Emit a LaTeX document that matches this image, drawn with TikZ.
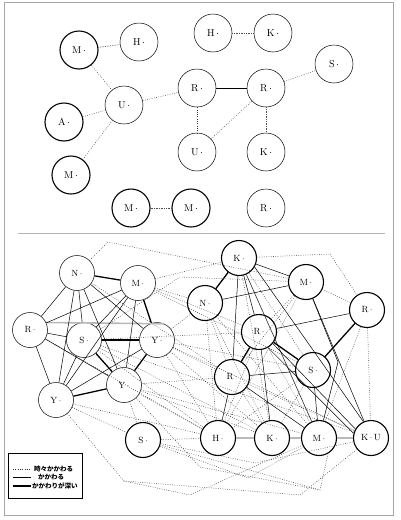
\documentclass[tikz,border=0pt]{standalone}
\usepackage{fontspec}
\newfontfamily\jpfont{Noto Sans CJK JP}
\newcommand{\ndot}{\,$\cdot$}
\begin{document}
\begin{tikzpicture}[x=1pt,y=-1pt,
  pers/.style={circle,draw,line width=0.5pt,minimum size=38pt,inner sep=0pt},
  persb/.style={pers,line width=1.1pt},
  low/.style={minimum size=35pt,font=\small},
  toki/.style={line width=0.5pt,black!80,dash pattern=on 0.7pt off 1.6pt},
  tokid/.style={line width=0.6pt,black!70,dash pattern=on 0.8pt off 0.9pt},
  kaka/.style={line width=0.5pt},
  fuka/.style={line width=1.3pt},
  gfuka/.style={line width=1.6pt,gray!55},
  legtxt/.style={anchor=west,inner sep=1pt,font=\jpfont\bfseries\fontsize{6.5}{7}\selectfont}]
\useasboundingbox (0,0) rectangle (400,520);
\draw[gray!70,line width=0.9pt] (4,2) rectangle (393,515);
% upper part
\node[persb] (m1) at (79,50) {M\ndot};
\node[pers] (h1) at (139,42) {H\ndot};
\node[pers] (h2) at (213,33) {H\ndot};
\node[pers] (k1) at (273,33) {K\ndot};
\node[pers] (s1) at (334,64) {S\ndot};
\node[pers] (r1) at (197,88) {R\ndot};
\node[pers] (r2) at (266,88) {R\ndot};
\node[pers] (u1) at (124,105) {U\ndot};
\node[persb] (a1) at (64,122) {A\ndot};
\node[pers] (u2) at (197,152) {U\ndot};
\node[pers] (k2) at (266,152) {K\ndot};
\node[persb] (m2) at (71,175) {M\ndot};
\node[persb] (m3) at (131,208) {M\ndot};
\node[persb] (m4) at (191,208) {M\ndot};
\node[pers] (r3) at (266,208) {R\ndot};
\draw[tokid] (m1)--(h1);
\draw[tokid] (h2)--(k1);
\draw[toki] (m1)--(u1);
\draw[toki] (a1)--(u1);
\draw[toki] (m2)--(u1);
\draw[toki] (u1)--(r1);
\draw[kaka] (r1)--(r2);
\draw[toki] (r2)--(s1);
\draw[toki] (r1)--(u2);
\draw[toki] (r2)--(u2);
\draw[tokid] (r2)--(k2);
\draw[tokid] (m3)--(m4);
\draw[gray!60,line width=0.6pt] (18,233)--(385,233);
% lower part
\node[pers,low] (n) at (77,273) {N\ndot};
\node[pers,low] (m) at (138,283) {M\ndot};
\node[pers,low] (r) at (30,330) {R\ndot};
\node[pers,low] (s) at (84,340) {S\ndot};
\node[pers,low] (y1) at (157,340) {Y\ndot};
\node[pers,low] (y2) at (124,385) {Y\ndot};
\node[pers,low] (y3) at (56,400) {Y\ndot};
\node[persb,low] (k) at (239,258) {K\ndot};
\node[persb,low] (mr) at (306,282) {M\ndot};
\node[persb,low] (rr) at (367,310) {R\ndot};
\node[persb,low] (nr) at (205,303) {N\ndot};
\node[persb,low] (rm) at (259,332) {R\ndot};
\node[persb,low] (rd) at (232,377) {R\ndot};
\node[persb,low] (sr) at (313,370) {S\ndot};
\node[persb,low] (sb) at (143,440) {S\ndot};
\node[persb,low] (hb) at (218,438) {H\ndot};
\node[persb,low] (kb) at (272,438) {K\ndot};
\node[persb,low] (mb) at (319,438) {M\ndot};
\node[persb,low] (ku) at (371,438) {K\,$\cdot$\,U};
\coordinate (c1) at (108,242);
\coordinate (c2) at (330,254);
\coordinate (c3) at (180,277);
\coordinate (c4) at (124,481);
\coordinate (c5) at (190,495);
\coordinate (c6) at (300,495);
\coordinate (c7) at (320,490);
\coordinate (c8) at (200,467);
\coordinate (c9) at (255,463);
\coordinate (c10) at (248,478);
\coordinate (c11) at (338,362);
% deep ties
\draw[fuka] (n)--(m);
\draw[fuka] (s)--(y1);
\draw[fuka] (m)--(y1);
\draw[fuka] (s)--(y2);
\draw[fuka] (y1)--(y2);
\draw[fuka] (y3)--(y2);
\draw[fuka] (k)--(nr);
\draw[fuka] (rm)--(sr);
\draw[fuka] (rr)--(sr);
\draw[fuka] (rm)--(rd);
\draw[gfuka] (r.25)--(y1.66);
\draw[gfuka] (hb)--(kb);
\draw[gfuka] (kb)--(mb);
\draw[gfuka] (mb)--(ku);
% ties
\draw[kaka] (n)--(r);
\draw[kaka] (n)--(s);
\draw[kaka] (n)--(y1);
\draw[kaka] (n)--(y2);
\draw[kaka] (n)--(y3);
\draw[kaka] (m)--(r);
\draw[kaka] (m)--(s);
\draw[kaka] (m)--(y2);
\draw[kaka] (m)--(y3);
\draw[kaka] (r)--(s);
\draw[kaka] (r)--(y2);
\draw[kaka] (r)--(y3);
\draw[kaka] (s)--(y3);
\draw[kaka] (y1)--(y3);
\draw[kaka] (k)--(mr);
\draw[kaka] (k)--(rm);
\draw[kaka] (k)--(rd);
\draw[kaka] (k)--(mb);
\draw[kaka] (k.330)--(ku.115);
\draw[kaka] (nr)--(mr);
\draw[kaka] (rr)--(rm);
\draw[kaka] (rd)--(sr);
\draw[kaka] (rd)--(hb);
\draw[kaka] (rm)--(kb);
\draw[kaka] (sr)--(mb);
\draw[kaka] (mr)--(c11)--(mb);
\draw[kaka] (mr)--(ku);
\draw[kaka] (rm.-40)--(ku.150);
\draw[kaka] (rm.-60)--(ku.165);
\draw[kaka] (rd)--(mb);
% occasional ties
\draw[toki] (n)--(c1)--(mr);
\draw[toki] (k)--(c2)--(rr);
\draw[toki] (s)--(c3)--(mr);
\draw[toki] (rr)--(ku);
\draw[toki] (y3)--(c4)--(c5)--(mb);
\draw[toki] (c4)--(c6)--(ku);
\draw[toki] (sb)--(c7)--(mb.300);
\draw[toki] (y2)--(c8)--(c7);
\draw[toki] (sb)--(c9)--(ku);
\draw[toki] (sb)--(c10)--(mb);
\draw[toki] (m)--(k);
\draw[toki] (m)--(nr);
\draw[toki] (m)--(rm);
\draw[toki] (m)--(sr);
\draw[toki] (n)--(rd);
\draw[toki] (s)--(rm);
\draw[toki] (s)--(hb);
\draw[toki] (s)--(kb);
\draw[toki] (s)--(ku);
\draw[toki] (y1)--(nr);
\draw[toki] (y1)--(rd);
\draw[toki] (y1)--(hb);
\draw[toki] (y1)--(kb);
\draw[toki] (y1)--(sr);
\draw[toki] (y1)--(ku);
\draw[toki] (y2)--(hb);
\draw[toki] (y2)--(kb);
\draw[toki] (y2)--(mb);
\draw[toki] (y2)--(rd);
\draw[toki] (y2)--(sb);
\draw[toki] (y3)--(sb);
\draw[toki] (y3)--(hb);
\draw[toki] (r)--(hb);
\draw[toki] (mr)--(rr);
\draw[toki] (mr)--(rm);
\draw[toki] (mr)--(rd);
\draw[toki] (mr)--(hb);
\draw[toki] (k)--(kb);
\draw[toki] (k)--(sr);
\draw[toki] (nr)--(kb);
\draw[toki] (nr)--(hb);
\draw[toki] (nr)--(mb);
\draw[toki] (nr)--(rd);
\draw[toki] (rm)--(hb);
\draw[toki] (rm)--(mb);
\draw[toki] (sr)--(kb);
\draw[toki] (sr)--(hb);
\draw[toki] (rd)--(kb);
\draw[toki] (rd)--(ku);
\draw[toki] (rr)--(mb);
\draw[toki] (sb)--(hb);
% legend
\node[draw,line width=0.9pt,minimum width=74pt,minimum height=45pt] (leg) at (45,475.5) {};
\coordinate (l1a) at (13,469);
\coordinate (l1b) at (31,469);
\coordinate (l2a) at (13,477);
\coordinate (l2b) at (31,477);
\coordinate (l3a) at (13,486);
\coordinate (l3b) at (31,486);
\draw[toki] (l1a)--(l1b);
\draw[kaka] (l2a)--(l2b);
\draw[fuka] (l3a)--(l3b);
\node[legtxt] (t1) at (33,469) {時々かかわる};
\node[legtxt] (t2) at (37,477) {かかわる};
\node[legtxt] (t3) at (31,486) {かかわりが深い};
\end{tikzpicture}
\end{document}
